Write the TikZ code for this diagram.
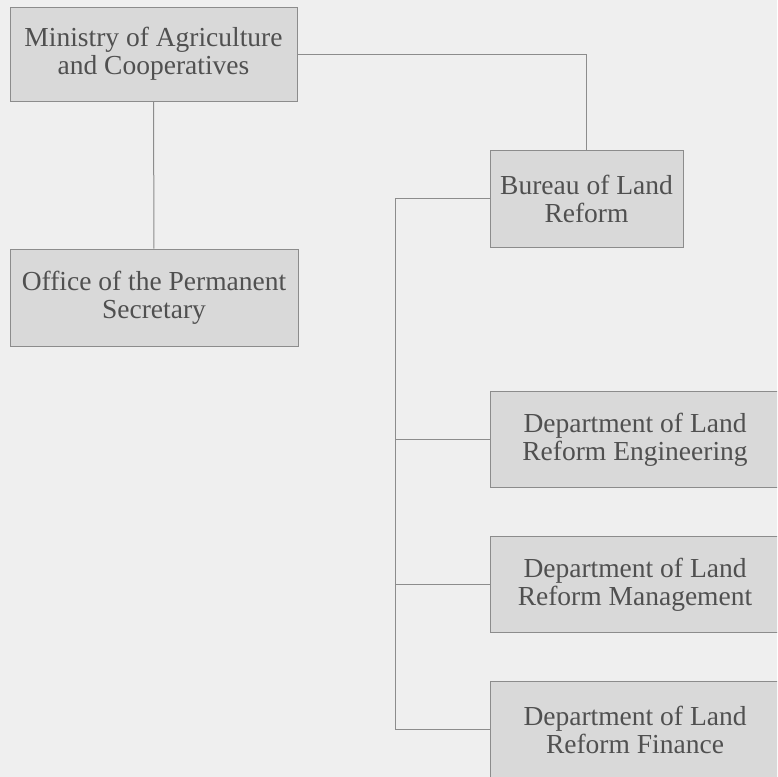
\documentclass[tikz,border=0pt]{standalone}
\usepackage{fontspec}
\setmainfont{Liberation Serif}
\definecolor{paper}{HTML}{EFEFEF}
\definecolor{boxfill}{HTML}{D9D9D9}
\definecolor{rule}{HTML}{8C8C8C}
\definecolor{ink}{HTML}{505050}
\begin{document}
\begin{tikzpicture}[x=1pt, y=-1pt, node distance={145pt}, main/.style = {draw=rule, fill=boxfill, line width=1pt, align=center, text=ink, font=\fontsize{27.5}{28}\selectfont}]
		\path[use as bounding box, fill=paper] (0,0) rectangle (777,777);
		\clip (0,0) rectangle (777,777);
		\node[main, minimum width=287pt, minimum height=94pt] (1) at (153.5,54) {Ministry of Agriculture\\and Cooperatives};
		\node[main, minimum width=288pt, minimum height=97pt] (2) at (154,297.5) {Office of the Permanent\\Secretary};
		\node[main, minimum width=193pt, minimum height=97pt] (3) at (586.5,198.5) {Bureau of Land\\Reform};
		\node[main, minimum width=290pt, minimum height=96pt] (4) at (635,439.5) {Department of Land\\Reform Engineering};
		\node[main, minimum width=290pt, minimum height=96pt] (5) [below of=4] {Department of Land\\Reform Management};
		\node[main, minimum width=290pt, minimum height=96pt] (6) [below of=5] {Department of Land\\Reform Finance};
		\coordinate (bus) at (395,0);
		\draw[rule, line width=1pt] (1) -- (2);
		\draw[rule, line width=1pt] (1.east) -| (3.north);
		\draw[rule, line width=1pt] (3.west) -| (bus |- 6.west) -- (6.west);
		\draw[rule, line width=1pt] (4.west) -- (bus |- 4.west);
		\draw[rule, line width=1pt] (5.west) -- (bus |- 5.west);
	\end{tikzpicture}
\end{document}
